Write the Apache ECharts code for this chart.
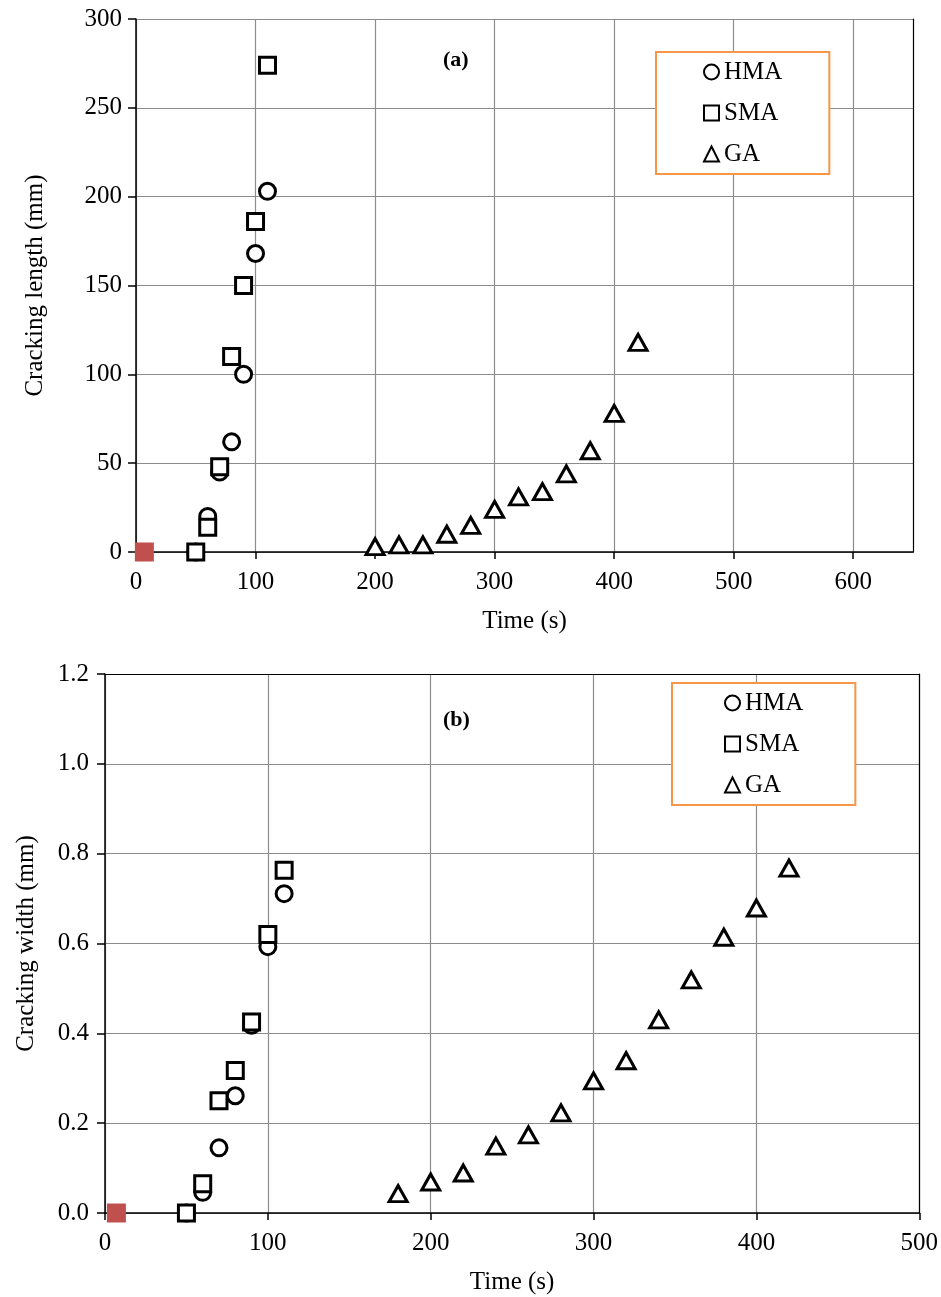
<!DOCTYPE html>
<html>
<head>
<meta charset="utf-8">
<script src="https://cdn.jsdelivr.net/npm/echarts@6/dist/echarts.min.js"></script>
<style>
  html, body { margin: 0; padding: 0; background: #fff; }
  #main { width: 941px; height: 1297px; }
</style>
</head>
<body>
<div id="main"></div>
<script>
// (a) cracking length vs time
var timeA = [50, 60, 70, 80, 90, 100, 110];
var hmaLength = [0, 20, 45, 62, 100, 168, 203];
var smaLength = [0, 14, 48, 110, 150, 186, 274];
var gaTimeA = [200, 220, 240, 260, 280, 300, 320, 340, 360, 380, 400, 420];
var gaLength = [3, 4, 4, 10, 15, 24, 31, 34, 44, 57, 78, 118];

// (b) cracking width vs time
var timeB = [50, 60, 70, 80, 90, 100, 110];
var hmaWidth = [0, 0.046, 0.145, 0.261, 0.418, 0.593, 0.711];
var smaWidth = [0, 0.065, 0.25, 0.317, 0.425, 0.62, 0.763];
var gaTimeB = [180, 200, 220, 240, 260, 280, 300, 320, 340, 360, 380, 400, 420];
var gaWidth = [0.043, 0.069, 0.089, 0.149, 0.174, 0.223, 0.294, 0.339, 0.43, 0.519, 0.614, 0.679, 0.768];

// stray filled marker at the origin in both panels
var originTime = [7];
var originValue = [0];

var xTicksA = [0, 100, 200, 300, 400, 500, 600];
var xTicksB = [0, 100, 200, 300, 400, 500];
var seriesNames = ['HMA', 'SMA', 'GA'];

var FONT = "'Liberation Serif', 'Times New Roman', serif";

function pairs(xs, ys) {
    var out = [];
    for (var i = 0; i < xs.length; i++) {
        out.push([xs[i], ys[i]]);
    }
    return out;
}

var open = { color: '#fff', borderColor: '#000', borderWidth: 3, opacity: 1 };

function markerSeries(name, symbol, size, xs, ys, idx) {
    return {
        name: name,
        type: 'scatter',
        xAxisIndex: idx,
        yAxisIndex: idx,
        symbol: symbol,
        symbolSize: size,
        itemStyle: open,
        clip: false,
        data: pairs(xs, ys)
    };
}

function originSeries(idx) {
    return {
        name: 'origin',
        type: 'scatter',
        xAxisIndex: idx,
        yAxisIndex: idx,
        symbol: 'rect',
        symbolSize: 19,
        itemStyle: { color: '#C0504D', opacity: 1 },
        clip: false,
        z: 1,
        data: pairs(originTime, originValue)
    };
}

function xAxisDef(idx, max, ticks) {
    return {
        type: 'value',
        gridIndex: idx,
        min: 0,
        max: max,
        interval: 100,
        name: 'Time (s)',
        nameLocation: 'middle',
        nameGap: 57,
        nameTextStyle: { fontFamily: FONT, fontSize: 25, color: '#000' },
        axisLine: { lineStyle: { color: '#000', width: 1.5 } },
        axisTick: { show: true, length: 7, customValues: ticks, lineStyle: { color: '#000', width: 1.5 } },
        axisLabel: {
            fontFamily: FONT, fontSize: 25, color: '#000', margin: 18,
            customValues: ticks
        },
        splitLine: { lineStyle: { color: '#8c8c8c', width: 1.2 } }
    };
}

function borderAxis(idx, position, color) {
    return {
        type: 'value',
        gridIndex: idx,
        position: position,
        axisLine: { show: true, onZero: false, lineStyle: { color: color, width: 1.2 } },
        axisTick: { show: false },
        axisLabel: { show: false },
        splitLine: { show: false }
    };
}

function legendDef(left, top, padding) {
    return {
        orient: 'vertical',
        left: left,
        top: top,
        data: seriesNames,
        borderColor: '#F79646',
        borderWidth: 2,
        backgroundColor: '#fff',
        padding: padding,
        itemGap: 11,
        itemWidth: 15,
        itemHeight: 15,
        selectedMode: false,
        textStyle: { fontFamily: FONT, fontSize: 25, color: '#000', lineHeight: 30 }
    };
}

var chart = echarts.init(document.getElementById('main'));

var option = {
    backgroundColor: '#fff',
    animation: false,
    grid: [
        { left: 136, right: 28, top: 19, height: 533 },
        { left: 105, right: 21, top: 674, height: 539 }
    ],
    xAxis: [
        xAxisDef(0, 650, xTicksA),
        xAxisDef(1, 500, xTicksB),
        borderAxis(1, 'top', '#000')
    ],
    yAxis: [
        {
            type: 'value',
            gridIndex: 0,
            min: 0,
            max: 300,
            interval: 50,
            name: 'Cracking length (mm)',
            nameLocation: 'middle',
            nameGap: 88,
            nameTextStyle: { fontFamily: FONT, fontSize: 25, color: '#000' },
            axisLine: { show: true, lineStyle: { color: '#000', width: 1.5 } },
            axisTick: { show: true, length: 8, lineStyle: { color: '#000', width: 1.5 } },
            axisLabel: { fontFamily: FONT, fontSize: 25, color: '#000', margin: 14 },
            splitLine: { lineStyle: { color: '#8c8c8c', width: 1.2 } }
        },
        {
            type: 'value',
            gridIndex: 1,
            min: 0,
            max: 1.2,
            interval: 0.2,
            name: 'Cracking width (mm)',
            nameLocation: 'middle',
            nameGap: 66,
            nameTextStyle: { fontFamily: FONT, fontSize: 25, color: '#000' },
            axisLine: { show: true, lineStyle: { color: '#000', width: 1.5 } },
            axisTick: { show: true, length: 8, lineStyle: { color: '#000', width: 1.5 } },
            axisLabel: {
                fontFamily: FONT, fontSize: 25, color: '#000', margin: 16,
                formatter: function (v) { return v.toFixed(1); }
            },
            splitLine: { lineStyle: { color: '#8c8c8c', width: 1.2 } }
        },
        borderAxis(0, 'right', '#000'),
        borderAxis(1, 'right', '#000')
    ],
    legend: [
        legendDef(656, 52, [5, 47, 5, 47]),
        legendDef(672, 683, [5, 52, 5, 52])
    ],
    graphic: [
        { type: 'text', left: 443, top: 49, style: { text: '(a)', fontFamily: FONT, fontSize: 22, fontWeight: 'bold', fill: '#000' } },
        { type: 'text', left: 443, top: 709, style: { text: '(b)', fontFamily: FONT, fontSize: 22, fontWeight: 'bold', fill: '#000' } }
    ],
    series: [
        originSeries(0),
        markerSeries('HMA', 'circle', 16, timeA, hmaLength, 0),
        markerSeries('SMA', 'rect', 16, timeA, smaLength, 0),
        markerSeries('GA', 'triangle', [18, 16], gaTimeA, gaLength, 0),
        originSeries(1),
        markerSeries('HMA', 'circle', 16, timeB, hmaWidth, 1),
        markerSeries('SMA', 'rect', 16, timeB, smaWidth, 1),
        markerSeries('GA', 'triangle', [18, 16], gaTimeB, gaWidth, 1)
    ]
};

chart.setOption(option);
</script>
</body>
</html>
